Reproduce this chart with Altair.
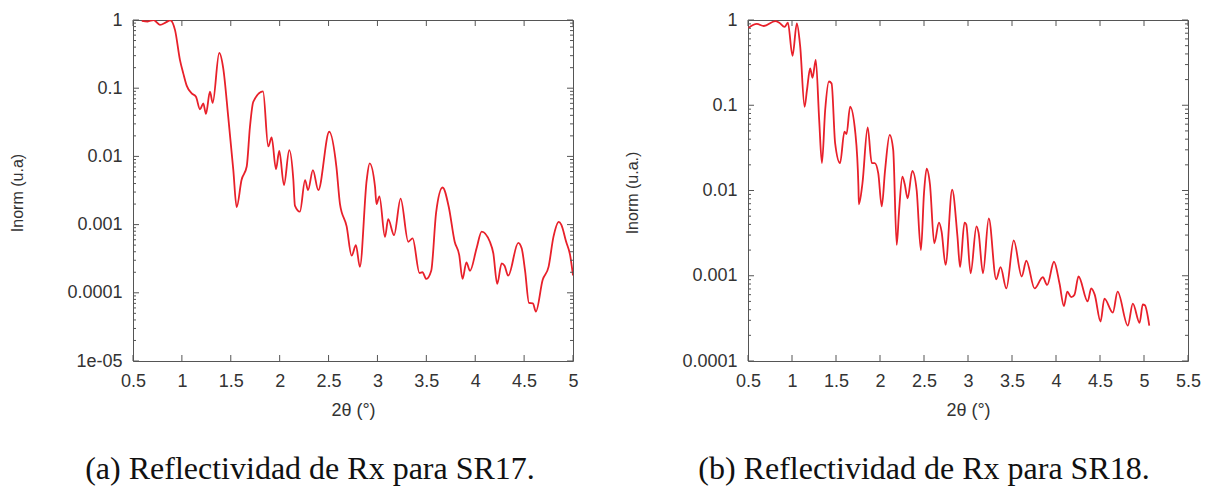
import math
import altair as alt
import pandas as pd

# ---------------- data ----------------
x_sr17 = [0.59, 0.65, 0.71, 0.776, 0.84, 0.88, 0.93, 0.98, 1.014, 1.05, 1.10, 1.144,
          1.185, 1.219, 1.246, 1.287, 1.315, 1.382, 1.423, 1.474, 1.526, 1.56, 1.61,
          1.663, 1.696, 1.73, 1.83, 1.883, 1.918, 1.962, 1.996, 2.044, 2.098, 2.14,
          2.156, 2.207, 2.26, 2.29, 2.34, 2.395, 2.507, 2.58, 2.617, 2.685, 2.736,
          2.78, 2.82, 2.89, 2.92, 2.975, 2.99, 3.02, 3.077, 3.11, 3.17, 3.237, 3.315,
          3.36, 3.43, 3.46, 3.50, 3.55, 3.60, 3.666, 3.73, 3.79, 3.836, 3.87, 3.91,
          3.946, 4.014, 4.066, 4.15, 4.185, 4.225, 4.27, 4.30, 4.337, 4.44, 4.475,
          4.51, 4.55, 4.59, 4.62, 4.69, 4.75, 4.80, 4.854, 4.88, 4.93, 4.97, 5.0]
y_sr17 = [0.97, 0.95, 1.0, 0.85, 0.93, 0.99, 0.71, 0.26, 0.165, 0.108, 0.084, 0.075,
          0.049, 0.06, 0.042, 0.089, 0.061, 0.33, 0.196, 0.038, 0.0063, 0.0018, 0.0045,
          0.0071, 0.027, 0.063, 0.09, 0.014, 0.019, 0.0065, 0.012, 0.0038, 0.0124, 0.0045,
          0.0019, 0.00155, 0.0045, 0.0032, 0.0063, 0.0032, 0.023, 0.0071, 0.0020, 0.00094, 0.00035,
          0.0005, 0.00024, 0.0045, 0.0079, 0.0036, 0.002, 0.0026, 0.00066, 0.0012, 0.0007, 0.0024, 0.00056,
          0.00063, 0.000195, 0.0002, 0.00016, 0.00021, 0.0015, 0.0035, 0.0018, 0.00056, 0.00036, 0.00016, 0.00028,
          0.00021, 0.00045, 0.00079, 0.00056, 0.00038, 0.000135, 0.00027, 0.00025, 0.000178, 0.00054, 0.00045,
          0.00021, 0.000071, 0.00007, 0.000053, 0.000155, 0.00024, 0.00066, 0.0011, 0.001, 0.00056, 0.00036, 0.00018]

x_sr18 = [0.50, 0.60, 0.68, 0.81, 0.855, 0.916, 0.953, 1.006, 1.055, 1.093, 1.143, 1.17,
          1.206, 1.233, 1.27, 1.309, 1.34, 1.377, 1.42, 1.45, 1.49, 1.546, 1.596, 1.62,
          1.66, 1.72, 1.755, 1.76, 1.80, 1.86, 1.906, 1.94, 1.98, 2.02, 2.057, 2.11,
          2.15, 2.19, 2.215, 2.254, 2.28, 2.314, 2.367, 2.416, 2.465, 2.50, 2.53, 2.567,
          2.617, 2.67, 2.70, 2.745, 2.82, 2.88, 2.91, 2.96, 2.98, 3.03, 3.096, 3.12,
          3.17, 3.236, 3.32, 3.37, 3.436, 3.52, 3.61, 3.663, 3.757, 3.85, 3.90, 3.977,
          4.04, 4.09, 4.128, 4.173, 4.21, 4.256, 4.36, 4.40, 4.44, 4.506, 4.55, 4.646,
          4.70, 4.816, 4.873, 4.95, 4.986, 5.01, 5.06]
y_sr18 = [0.80, 0.90, 0.85, 0.97, 0.93, 0.83, 0.93, 0.38, 0.91, 0.49, 0.096, 0.15,
          0.27, 0.21, 0.34, 0.067, 0.021, 0.088, 0.19, 0.18, 0.036, 0.021, 0.049, 0.046,
          0.096, 0.047, 0.011, 0.0069, 0.012, 0.055, 0.021, 0.021, 0.016, 0.0065, 0.017, 0.045,
          0.03, 0.0023, 0.0054, 0.0145, 0.012, 0.0081, 0.017, 0.0102, 0.002, 0.0093, 0.018, 0.012,
          0.0024, 0.0042, 0.0033, 0.00134, 0.0102, 0.0029, 0.00126, 0.0042, 0.004, 0.00107, 0.0038, 0.0032,
          0.00107, 0.0047, 0.00091, 0.00126, 0.00071, 0.0026, 0.00098, 0.0015, 0.00071, 0.00096, 0.00078, 0.00146,
          0.00081, 0.00044, 0.00065, 0.00056, 0.0006, 0.00098, 0.0005, 0.00071, 0.0006, 0.00029, 0.00054, 0.00037,
          0.00065, 0.00026, 0.00047, 0.00028, 0.00046, 0.00045, 0.00026]

x_ticks_a = [0.5, 1, 1.5, 2, 2.5, 3, 3.5, 4, 4.5, 5]
x_ticks_b = [0.5, 1, 1.5, 2, 2.5, 3, 3.5, 4, 4.5, 5, 5.5]
y_ticks_a = [1, 0.1, 0.01, 0.001, 0.0001, 0.00001]
y_labels_a = ["1", "0.1", "0.01", "0.001", "0.0001", "1e-05"]
y_ticks_b = [1, 0.1, 0.01, 0.001, 0.0001]
y_labels_b = ["1", "0.1", "0.01", "0.001", "0.0001"]
minor_mult = [2, 3, 4, 5, 6, 7, 8, 9]

y_title_a = "Inorm (u.a)"
y_title_b = "Inorm (u.a.)"
x_title = "2θ (°)"
caption_a = "(a) Reflectividad de Rx para SR17."
caption_b = "(b) Reflectividad de Rx para SR18."

# ---------------- styling ----------------
W, H = 440, 341
RED = "#e8202a"
FRAME = "#555555"
SANS = "Liberation Sans"
SERIF = "Liberation Serif"
MAJ, MIN = 6, 3


def label_expr(vals, labels):
    parts = []
    for v, lab in zip(vals, labels):
        parts.append("abs(log(datum.value)/LN10 - (%g)) < 0.01 ? '%s' : " % (math.log10(v), lab))
    return "".join(parts) + "''"


def panel(xs, ys, xdom, xticks, yticks, ylabels, ytitle, caption, cap_dx):
    xs_scale = alt.Scale(domain=xdom, nice=False, zero=False)
    ys_scale = alt.Scale(type="log", domain=[min(yticks), max(yticks)], nice=False)
    x_axis = alt.Axis(values=xticks, format="~g", title=x_title, titlePadding=11)
    y_axis = alt.Axis(values=yticks, labelExpr=label_expr(yticks, ylabels),
                      title=ytitle, titleX=-108, titleY=H / 2 + 2, titleFontSize=16)

    df = pd.DataFrame({"v": xs, "w": ys})
    line = alt.Chart(df).mark_line(color=RED, strokeWidth=1.8, clip=True,
                                   interpolate="monotone").encode(
        x=alt.X("v:Q", scale=xs_scale, axis=x_axis),
        y=alt.Y("w:Q", scale=ys_scale, axis=y_axis),
    )

    xt = pd.DataFrame({"v": xticks})
    ymaj = pd.DataFrame({"w": yticks})
    ymin_vals = [m * d for d in yticks for m in minor_mult if m * d < max(yticks)]
    ymin = pd.DataFrame({"w": ymin_vals})

    def xrule(y0, y1):
        return alt.Chart(xt).mark_rule(color=FRAME, strokeWidth=1).encode(
            x=alt.X("v:Q", scale=xs_scale, axis=x_axis),
            y=alt.value(y0), y2=alt.value(y1))

    def yrule(data, x0, x1):
        return alt.Chart(data).mark_rule(color=FRAME, strokeWidth=1).encode(
            y=alt.Y("w:Q", scale=ys_scale, axis=y_axis),
            x=alt.value(x0), x2=alt.value(x1))

    layers = [
        line,
        xrule(H, H - MAJ), xrule(0, MAJ),
        yrule(ymaj, 0, MAJ), yrule(ymaj, W, W - MAJ),
        yrule(ymin, 0, MIN), yrule(ymin, W, W - MIN),
    ]
    return alt.layer(*layers).properties(
        width=W, height=H,
        title=alt.TitleParams(caption, orient="bottom", font=SERIF, fontSize=32,
                              fontWeight="normal", color="#111111", anchor="middle",
                              frame="group", offset=35, dx=cap_dx),
    )


left = panel(x_sr17, y_sr17, [0.5, 5], x_ticks_a, y_ticks_a, y_labels_a,
             y_title_a, caption_a, -43)
right = panel(x_sr18, y_sr18, [0.5, 5.5], x_ticks_b, y_ticks_b, y_labels_b,
              y_title_b, caption_b, -44)

chart = alt.hconcat(left, right, spacing=44).properties(
    padding={"left": 0, "top": 2, "right": 0, "bottom": 0}
).configure_view(
    stroke=FRAME, strokeWidth=1
).configure_axis(
    labelFont=SANS, labelFontSize=18, labelColor="#333333", labelPadding=11,
    labelFlush=False, labelOverlap=False,
    titleFont=SANS, titleFontSize=18, titleFontWeight="normal", titleColor="#333333",
    ticks=False, domain=False, grid=False,
)

chart.save("out.html", embed_options={"renderer": "svg", "actions": False})
